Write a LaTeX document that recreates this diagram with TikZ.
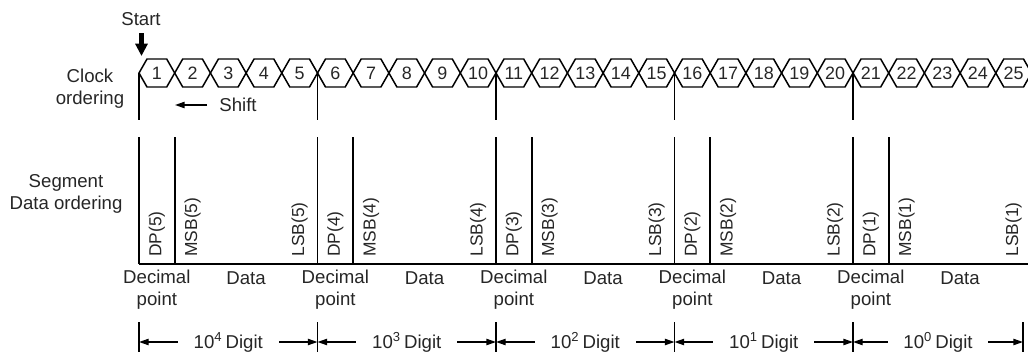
\documentclass[tikz,border=0pt]{standalone}
\usepackage{fontspec}
\setmainfont{Liberation Sans}
\usetikzlibrary{arrows.meta, positioning, calc}

\tikzset{
  hexcell/.style  = {font=\fontsize{10.2}{11}\selectfont, inner sep=0pt, text=black!85},
  lbl/.style      = {font=\fontsize{10.6}{12.4}\selectfont, align=center, inner sep=0pt, text=black!85},
  bitlbl/.style   = {font=\fontsize{9.9}{11}\selectfont, rotate=90, anchor=west, inner sep=0pt, text=black!85},
  wire/.style     = {line width=0.95pt},
  dimarrow/.style = {line width=0.75pt,
                     {Triangle[length=5.5pt,width=3.6pt]}-{Triangle[length=5.5pt,width=3.6pt]}},
}

\begin{document}
\begin{tikzpicture}[x=0.02cm, y=-0.02cm]
\useasboundingbox (0,0) rectangle (1028,352);
\clip (0,0) rectangle (1028,352);

% start marker
\node[lbl] (start) at (141,19) {Start};
\coordinate (starttail) at (141.5,33);
\coordinate (starthead) at (141.5,56);
\draw[line width=2.3pt, -{Triangle[length=7pt,width=6.8pt]}] (starttail) -- (starthead);

% row titles
\node[lbl] (clocktitle) at (90,89) {Clock\\ordering};
\node[lbl] (segtitle) at (66,194) {Segment\\Data ordering};

% clock cells
\foreach \i in {1,...,25} {
  \pgfmathsetmacro{\xl}{139+(\i-1)*35.7}
  \pgfmathsetmacro{\xr}{\xl+35.7}
  \draw[line width=0.85pt] (\xl,73) -- (\xl+8,59) -- (\xr-8,59) -- (\xr,73)
       -- (\xr-8,87) -- (\xl+8,87) -- cycle;
  \node[hexcell] (c\i) at ({(\xl+\xr)/2},73) {\i};
}

% shift
\node[lbl, anchor=west] (shift) at (219,105) {Shift};
\coordinate (shifttail) at (207,105);
\coordinate (shifthead) at (175,105);
\draw[line width=0.8pt, -{Triangle[length=5.5pt,width=3.6pt]}] (shifttail) -- (shifthead);

% digit groups
\foreach \k/\d in {0/5,1/4,2/3,3/2,4/1} {
  \pgfmathsetmacro{\bx}{139+\k*178.5}
  \draw[wire] (\bx,73) -- (\bx,120);
  \draw[wire] (\bx,137) -- (\bx,264);
  \draw[wire] (\bx+35.7,137) -- (\bx+35.7,264);
  \node[bitlbl] (dp\d) at (\bx+17.85,257) {DP(\d)};
  \node[bitlbl] (msb\d) at (\bx+53.55,257) {MSB(\d)};
  \node[bitlbl] (lsb\d) at (\bx+160.65,257) {LSB(\d)};
  \node[lbl, anchor=north] (dec\d) at (\bx+17.85,270) {Decimal\\point};
  \node[lbl] (data\d) at (\bx+107.1,278) {Data};
  \coordinate (t\k) at (\bx,342);
  \draw[wire] (\bx,322) -- (\bx,352);
}
\coordinate (t5) at (1023,342);
\draw[wire] (1023,322) -- (1023,352);

% base line
\coordinate (base0) at (139,264);
\coordinate (base1) at (1028,264);
\draw[wire] (base0) -- (base1);

% digit spans
\foreach \k/\n/\e in {0/1/4,1/2/3,2/3/2,3/4/1,4/5/0} {
  \draw[dimarrow] (t\k) -- (t\n)
    node[lbl, midway, fill=white, inner xsep=9pt] (span\e) {10\textsuperscript{\e}\,Digit};
}

\end{tikzpicture}
\end{document}
